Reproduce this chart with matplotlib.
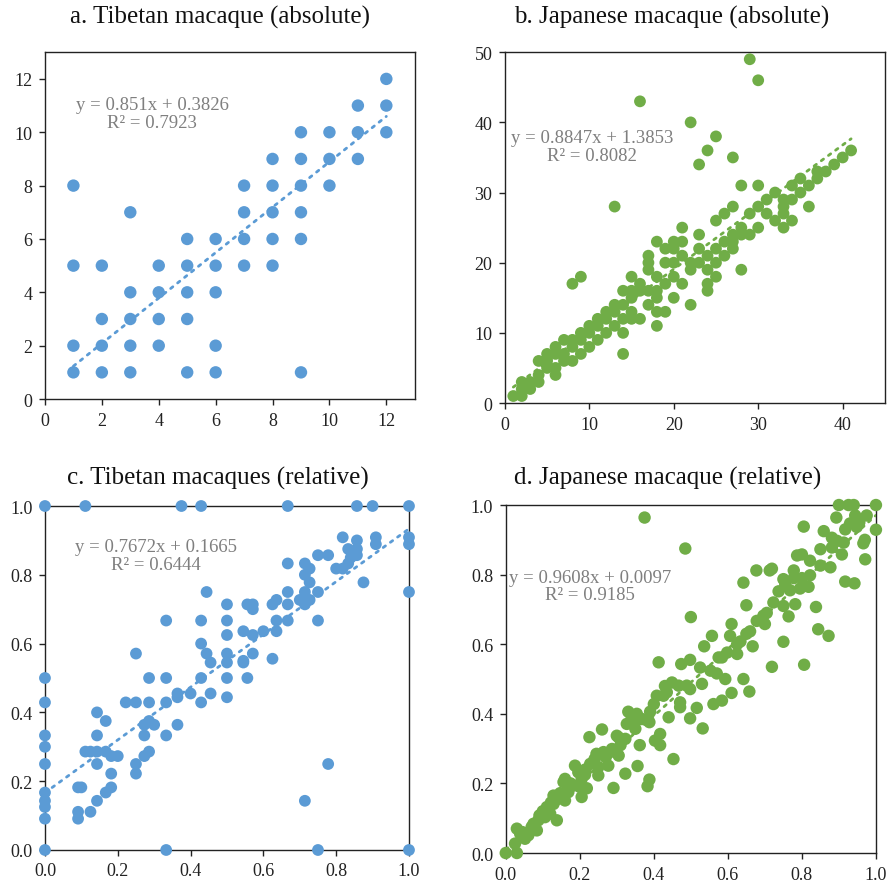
import matplotlib
matplotlib.use("Agg")
import matplotlib.pyplot as plt
import numpy as np

plt.rcParams['font.family'] = ['Liberation Serif', 'DejaVu Serif']

BLUE = '#5B9BD5'
GREEN = '#70AD47'

# ---------------- Panel a: Tibetan macaque (absolute) ----------------
a_x = [1, 1, 1, 1,
       2, 2, 2, 2,
       3, 3, 3, 3, 3,
       4, 4, 4, 4,
       5, 5, 5, 5, 5,
       6, 6, 6, 6, 6,
       7, 7, 7, 7,
       8, 8, 8, 8, 8,
       9, 9, 9, 9, 9, 9,
       10, 10, 10,
       11, 11, 11,
       12, 12, 12]
a_y = [8, 5, 2, 1,
       5, 3, 2, 1,
       7, 4, 3, 2, 1,
       5, 4, 3, 2,
       6, 5, 4, 3, 1,
       6, 5, 4, 2, 1,
       8, 7, 6, 5,
       9, 8, 7, 6, 5,
       10, 9, 8, 7, 6, 1,
       10, 9, 8,
       11, 10, 9,
       12, 11, 10]
a_fit = (0.851, 0.3826)
a_eq = "y = 0.851x + 0.3826\nR² = 0.7923"

# ---------------- Panel b: Japanese macaque (absolute) ----------------
b_pts = [
    (29, 49), (30, 46), (16, 43), (22, 40), (25, 38), (24, 36), (23, 34), (27, 35),
    (13, 28), (8, 17), (9, 18), (28, 31), (30, 31), (36, 28), (28, 19), (14, 7),
    (18, 11), (22, 14), (41, 36),
    (40, 35), (39, 34), (38, 33), (37, 32), (37, 33), (36, 31), (35, 32), (35, 30),
    (34, 31), (34, 29), (34, 26), (33, 29), (33, 28), (33, 27), (33, 25),
    (32, 30), (32, 26), (31, 29), (31, 27), (30, 28), (30, 25), (29, 27), (29, 24),
    (28, 25), (28, 24), (27, 28), (27, 24), (27, 23), (27, 22),
    (26, 27), (26, 23), (26, 21), (25, 26), (25, 22), (25, 20), (25, 18),
    (24, 21), (24, 19), (24, 17), (24, 16), (23, 24), (23, 22), (23, 20),
    (22, 19), (22, 20), (21, 25), (21, 23), (21, 21), (21, 17),
    (20, 23), (20, 22), (20, 20), (20, 18), (20, 15),
    (19, 22), (19, 20), (19, 17), (19, 13),
    (18, 23), (18, 18), (18, 16), (18, 15), (18, 13),
    (17, 21), (17, 20), (17, 19), (17, 16), (17, 14),
    (16, 17), (16, 16), (16, 12),
    (15, 18), (15, 16), (15, 15), (15, 13), (15, 12),
    (14, 16), (14, 14), (14, 12), (14, 10),
    (13, 14), (13, 13), (13, 11),
    (12, 13), (12, 12), (12, 10),
    (11, 12), (11, 11), (11, 9),
    (10, 11), (10, 10), (10, 8),
    (9, 10), (9, 9), (9, 7),
    (8, 9), (8, 8), (8, 6),
    (7, 9), (7, 7), (7, 6),
    (6, 8), (6, 7), (6, 5), (6, 4),
    (5, 7), (5, 6), (5, 5),
    (4, 6), (4, 4), (4, 3),
    (3, 3), (3, 2),
    (2, 3), (2, 2), (2, 1),
    (1, 1),
]
b_x = [p[0] for p in b_pts]
b_y = [p[1] for p in b_pts]
b_fit = (0.8847, 1.3853)
b_eq = "y = 0.8847x + 1.3853\nR² = 0.8082"

# ---------------- Panel c: Tibetan macaques (relative) ----------------
c_pts = [
    (0.0, 1.0), (0.111, 1.0), (0.375, 1.0), (0.429, 1.0), (0.667, 1.0), (0.857, 1.0), (0.9, 1.0), (1.0, 1.0),
    (0.0, 0.0), (0.333, 0.0), (0.75, 0.0), (1.0, 0.0),
    (0.0, 0.5), (0.0, 0.429), (0.0, 0.333), (0.0, 0.3), (0.0, 0.25), (0.0, 0.167),
    (0.0, 0.143), (0.0, 0.125), (0.0, 0.091),
    (1.0, 0.909), (1.0, 0.889), (1.0, 0.75),
    (0.143, 0.4), (0.167, 0.375), (0.143, 0.333),
    (0.111, 0.286), (0.125, 0.286), (0.143, 0.286), (0.167, 0.286),
    (0.182, 0.273), (0.2, 0.273), (0.143, 0.25), (0.182, 0.222),
    (0.091, 0.182), (0.1, 0.182), (0.182, 0.182), (0.167, 0.167), (0.143, 0.143),
    (0.125, 0.111), (0.091, 0.111), (0.091, 0.091),
    (0.222, 0.429), (0.25, 0.429), (0.25, 0.571), (0.25, 0.25), (0.25, 0.222),
    (0.273, 0.273), (0.286, 0.286), (0.273, 0.333), (0.273, 0.364), (0.286, 0.375),
    (0.3, 0.364), (0.286, 0.429), (0.286, 0.5),
    (0.333, 0.5), (0.333, 0.429), (0.333, 0.667), (0.333, 0.333),
    (0.364, 0.364), (0.364, 0.444), (0.364, 0.455), (0.4, 0.455),
    (0.429, 0.429), (0.429, 0.5), (0.429, 0.6), (0.429, 0.667),
    (0.444, 0.75), (0.444, 0.571), (0.455, 0.545), (0.455, 0.455),
    (0.5, 0.444), (0.5, 0.5), (0.5, 0.545), (0.5, 0.571), (0.5, 0.625), (0.5, 0.667), (0.5, 0.714),
    (0.545, 0.55), (0.545, 0.545), (0.545, 0.636), (0.556, 0.5), (0.556, 0.714),
    (0.571, 0.571), (0.571, 0.625), (0.571, 0.7), (0.571, 0.714),
    (0.6, 0.636), (0.625, 0.556), (0.625, 0.714),
    (0.636, 0.636), (0.636, 0.667), (0.636, 0.727),
    (0.667, 0.667), (0.667, 0.714), (0.667, 0.75), (0.667, 0.833),
    (0.7, 0.727), (0.714, 0.714), (0.714, 0.727), (0.714, 0.75), (0.714, 0.8), (0.714, 0.833),
    (0.727, 0.818), (0.727, 0.778), (0.727, 0.727), (0.714, 0.143),
    (0.75, 0.75), (0.75, 0.667), (0.75, 0.857), (0.778, 0.857), (0.778, 0.25),
    (0.8, 0.818), (0.818, 0.909), (0.818, 0.818), (0.833, 0.833), (0.833, 0.875),
    (0.84, 0.85), (0.857, 0.9), (0.857, 0.875), (0.857, 0.857), (0.875, 0.778),
    (0.909, 0.909), (0.909, 0.889),
]
c_x = [p[0] for p in c_pts]
c_y = [p[1] for p in c_pts]
c_fit = (0.7672, 0.1665)
c_eq = "y = 0.7672x + 0.1665\nR² = 0.6444"

# ---------------- Panel d: Japanese macaque (relative) ----------------
d_pts = [
    (0.375, 0.964), (0.485, 0.875), (0.5, 0.678), (0.413, 0.548), (0.806, 0.541),
    (0.719, 0.535), (0.872, 0.624), (0.844, 0.643), (0.75, 0.607), (0.917, 0.78),
    (0.942, 0.775), (0.971, 0.844), (1.0, 0.929), (1.0, 1.0), (0.9, 1.0), (0.926, 1.0),
    (0.94, 1.0), (0.893, 0.964), (0.966, 0.89), (0.97, 0.9), (0.975, 0.97), (0.944, 0.97),
    (0.955, 0.95), (0.908, 0.858), (0.877, 0.821), (0.85, 0.826), (0.822, 0.84),
    (0.805, 0.938), (0.822, 0.798), (0.787, 0.855), (0.8, 0.858), (0.778, 0.812),
    (0.677, 0.812), (0.713, 0.812), (0.719, 0.817), (0.642, 0.777), (0.65, 0.712),
    (0.75, 0.787), (0.778, 0.79), (0.8, 0.79), (0.818, 0.765), (0.838, 0.707),
    (0.782, 0.715), (0.764, 0.68), (0.723, 0.72), (0.75, 0.71), (0.696, 0.682),
    (0.678, 0.667), (0.7, 0.658), (0.61, 0.658), (0.606, 0.624), (0.65, 0.63),
    (0.667, 0.594), (0.625, 0.6), (0.625, 0.572), (0.557, 0.624), (0.536, 0.594),
    (0.584, 0.562), (0.593, 0.5), (0.57, 0.516), (0.553, 0.524), (0.525, 0.533),
    (0.53, 0.486), (0.498, 0.471), (0.498, 0.555), (0.474, 0.543), (0.642, 0.5),
    (0.658, 0.464), (0.61, 0.46), (0.584, 0.438), (0.561, 0.428), (0.516, 0.417),
    (0.532, 0.358), (0.498, 0.387), (0.471, 0.433), (0.471, 0.419), (0.449, 0.49),
    (0.467, 0.481), (0.435, 0.462), (0.44, 0.39), (0.426, 0.452), (0.4, 0.428),
    (0.39, 0.406), (0.388, 0.376), (0.359, 0.385), (0.331, 0.406), (0.354, 0.4),
    (0.35, 0.357), (0.327, 0.371), (0.3, 0.337), (0.323, 0.328), (0.403, 0.323),
    (0.417, 0.342), (0.417, 0.31), (0.362, 0.31), (0.356, 0.25), (0.453, 0.27),
    (0.388, 0.211), (0.383, 0.192), (0.323, 0.228), (0.291, 0.187), (0.26, 0.355),
    (0.226, 0.333), (0.287, 0.299), (0.264, 0.29), (0.305, 0.28), (0.245, 0.285),
    (0.277, 0.251), (0.25, 0.247), (0.228, 0.256), (0.25, 0.223), (0.187, 0.251),
    (0.205, 0.213), (0.214, 0.225), (0.219, 0.186), (0.16, 0.213), (0.183, 0.194),
    (0.205, 0.161), (0.169, 0.175), (0.147, 0.172), (0.16, 0.151), (0.129, 0.141),
    (0.12, 0.113), (0.138, 0.094), (0.106, 0.103), (0.088, 0.094), (0.075, 0.084),
    (0.084, 0.065), (0.061, 0.051), (0.052, 0.041), (0.03, 0.07), (0.025, 0.027),
    (0.03, 0.0), (0.0, 0.0), (0.039, 0.055), (0.111, 0.132), (0.122, 0.145), (0.091, 0.108),
    (0.859, 0.925), (0.881, 0.906), (0.895, 0.897), (0.917, 0.93), (0.93, 0.947),
    (0.948, 0.937), (0.85, 0.873), (0.881, 0.878), (0.913, 0.892), (0.755, 0.772),
    (0.737, 0.752), (0.768, 0.755), (0.795, 0.76), (0.705, 0.69), (0.66, 0.637),
    (0.634, 0.608), (0.598, 0.576), (0.575, 0.562), (0.489, 0.481), (0.43, 0.48),
    (0.408, 0.452), (0.368, 0.385), (0.34, 0.385), (0.305, 0.332), (0.282, 0.29),
    (0.237, 0.261), (0.196, 0.232), (0.156, 0.204), (0.129, 0.165),
    (0.045, 0.06), (0.07, 0.075), (0.1, 0.12), (0.14, 0.155), (0.175, 0.2),
    (0.2, 0.19), (0.215, 0.24), (0.24, 0.27), (0.27, 0.275), (0.31, 0.31),
]
d_x = [p[0] for p in d_pts]
d_y = [p[1] for p in d_pts]
d_fit = (0.9608, 0.0097)
d_eq = "y = 0.9608x + 0.0097\nR² = 0.9185"

titles = ["a. Tibetan macaque (absolute)", "b. Japanese macaque (absolute)",
          "c. Tibetan macaques (relative)", "d. Japanese macaque (relative)"]

fig = plt.figure(figsize=(8.92, 8.87), dpi=100)

panels = [
    dict(rect=[0.0504, 0.549, 0.4146, 0.391], x=a_x, y=a_y, fit=a_fit, eq=a_eq, color=BLUE,
         xlim=(0, 13), ylim=(0, 13), xt=np.arange(0, 13, 2), yt=np.arange(0, 13, 2), fmt='{:.0f}',
         eqpos=(0.29, 0.824), s=80, title=titles[0], tpos=(0.247, 0.980)),
    dict(rect=[0.566, 0.5445, 0.426, 0.3955], x=b_x, y=b_y, fit=b_fit, eq=b_eq, color=GREEN,
         xlim=(0, 45), ylim=(0, 50), xt=np.arange(0, 41, 10), yt=np.arange(0, 51, 10), fmt='{:.0f}',
         eqpos=(0.23, 0.732), s=72, title=titles[1], tpos=(0.753, 0.980)),
    dict(rect=[0.0504, 0.0406, 0.4081, 0.3878], x=c_x, y=c_y, fit=c_fit, eq=c_eq, color=BLUE,
         xlim=(0, 1), ylim=(0, 1), xt=np.arange(0, 1.01, 0.2), yt=np.arange(0, 1.01, 0.2), fmt='{:.1f}',
         eqpos=(0.305, 0.857), s=72, title=titles[2], tpos=(0.244, 0.461)),
    dict(rect=[0.567, 0.0372, 0.415, 0.3923], x=d_x, y=d_y, fit=d_fit, eq=d_eq, color=GREEN,
         xlim=(0, 1), ylim=(0, 1), xt=np.arange(0, 1.01, 0.2), yt=np.arange(0, 1.01, 0.2), fmt='{:.1f}',
         eqpos=(0.227, 0.767), s=80, title=titles[3], tpos=(0.748, 0.461)),
]

for p in panels:
    ax = fig.add_axes(p['rect'])
    x = np.array(p['x'], dtype=float)
    y = np.array(p['y'], dtype=float)
    ax.scatter(x, y, s=p['s'], color=p['color'], edgecolors='none', zorder=3, clip_on=False)
    m, b = p['fit']
    xs = np.array([x.min(), x.max()])
    ax.plot(xs, m * xs + b, linestyle=(0, (1, 2.2)), color=p['color'], lw=2.0,
            dash_capstyle='round', zorder=4)
    ax.set_xlim(*p['xlim'])
    ax.set_ylim(*p['ylim'])
    ax.set_xticks(p['xt'])
    ax.set_yticks(p['yt'])
    ax.set_xticklabels([p['fmt'].format(v) for v in p['xt']])
    ax.set_yticklabels([p['fmt'].format(v) for v in p['yt']])
    ax.tick_params(direction='out', length=4, width=1, labelsize=13, colors='#222222', pad=5)
    for sp in ax.spines.values():
        sp.set_linewidth(1.0)
        sp.set_color('#222222')
    ax.text(p['eqpos'][0], p['eqpos'][1], p['eq'], transform=ax.transAxes, ha='center', va='center',
            multialignment='center', fontsize=13.5, color='#7f7f7f', linespacing=1.05, zorder=5)
    fig.text(p['tpos'][0], p['tpos'][1], p['title'], ha='center', va='center', fontsize=18, color='#111111')

fig.savefig('out.png', dpi=100)
